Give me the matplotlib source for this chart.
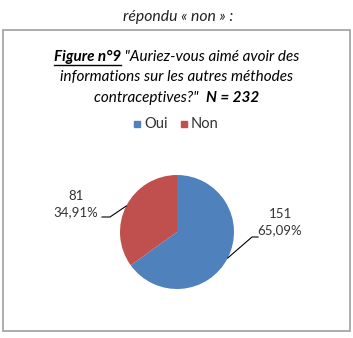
import matplotlib
matplotlib.use("Agg")
import matplotlib.pyplot as plt
import numpy as np

categories = ["Oui", "Non"]
counts = [151, 81]
percent_labels = ["65,09%", "34,91%"]
colors = ["#4F81BD", "#C0504D"]

W, H = 353, 338
FONT = "Lato"
plt.rcParams["font.family"] = [FONT, "DejaVu Sans"]

fig = plt.figure(figsize=(W / 100, H / 100), dpi=100)
ax = fig.add_axes([0, 0, 1, 1])
ax.set_xlim(0, W)
ax.set_ylim(0, H)
ax.set_aspect("equal")
ax.axis("off")

def Y(y):
    return H - y

# outer box
ax.add_patch(plt.Rectangle((2.5, Y(330.5)), 347.5, 300.5, fill=False,
                           edgecolor="#a6a6a6", linewidth=1.3))

# text above box
ax.text(178, Y(17), "répondu « non » :", ha="center", va="center",
        fontsize=11.3, style="italic", color="#222222")

# title with mixed styles
fig.canvas.draw()
renderer = fig.canvas.get_renderer()

def mixed_line(pieces, yc, fs=11.0):
    objs = []
    for txt, weight, underline in pieces:
        t = ax.text(0, Y(yc), txt, ha="left", va="center", fontsize=fs,
                    style="italic", weight=weight, color="#000000")
        objs.append((t, underline))
    widths = []
    for t, _ in objs:
        bb = t.get_window_extent(renderer)
        widths.append(bb.width)
    total = sum(widths)
    x = 177 - total / 2
    for (t, ul), w in zip(objs, widths):
        t.set_x(x)
        if ul:
            ax.plot([x, x + w], [Y(yc + 8), Y(yc + 8)], color="#000000", lw=1.0)
        x += w

mixed_line([("Figure n°9", "bold", True), (' "Auriez-vous aimé avoir des', "normal", False)], 57)
mixed_line([("informations sur les autres méthodes", "normal", False)], 77)
mixed_line([('contraceptives?"  ', "normal", False), ("N = 232", "bold", False)], 98)

# legend
leg_items = [(137, 144, categories[0], colors[0]), (184, 191, categories[1], colors[1])]
for sx, tx, name, c in leg_items:
    ax.add_patch(plt.Rectangle((sx - 3.2, Y(127.2)), 6.4, 6.4, color=c))
    ax.text(tx, Y(124), name, ha="left", va="center", fontsize=10.5, color="#333333")

# pie
cx, cy, r = 177, 232, 57
wedges, _ = ax.pie(counts, colors=colors, startangle=90, counterclock=False,
                   center=(cx, Y(cy)), radius=r, frame=True)
ax.set_xlim(0, W)
ax.set_ylim(0, H)
ax.axis("off")

# data labels with leader lines
label_pos = [(280, 222), (76, 204)]
elbow = [(258, 237), (102, 217)]
knee = [(252, 237), (110, 217)]
for w, n, p, (lx, ly), (ex, ey), (kx, ky) in zip(wedges, counts, percent_labels,
                                                 label_pos, elbow, knee):
    mid = np.deg2rad((w.theta1 + w.theta2) / 2)
    px = cx + r * np.cos(mid)
    py = Y(cy) + r * np.sin(mid)
    ax.plot([px, kx, ex], [py, Y(ky), Y(ey)], color="#000000", lw=0.8)
    ax.text(lx, Y(ly), f"{n}\n{p}", ha="center", va="center", fontsize=9.5,
            color="#333333", linespacing=1.35)

fig.savefig("out.png", dpi=100)
